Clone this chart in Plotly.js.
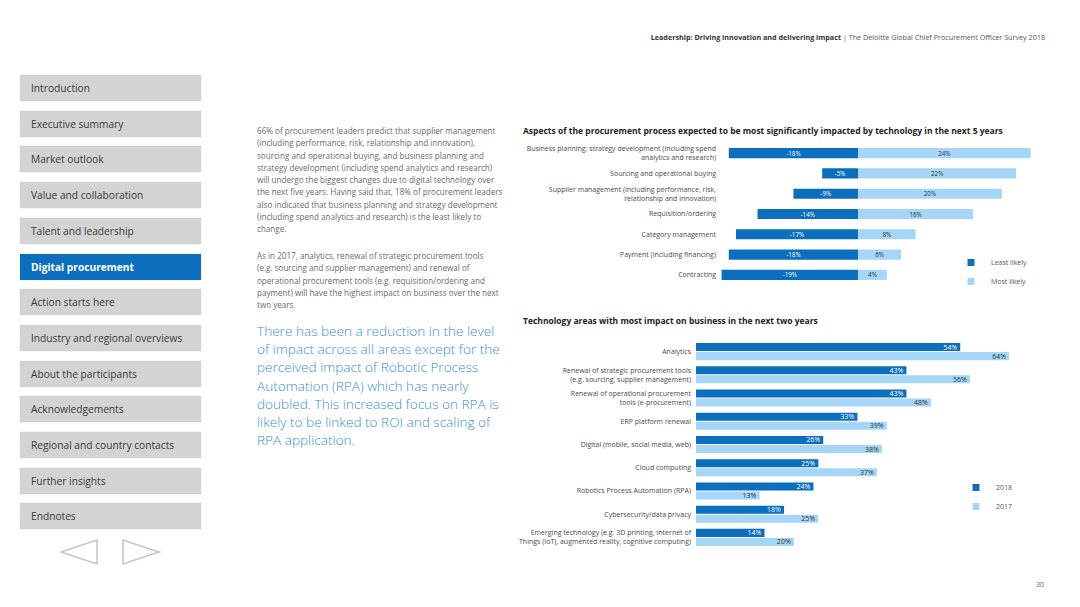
<!DOCTYPE html>
<html>
<head>
<meta charset="utf-8">
<script src="https://cdn.plot.ly/plotly-3.0.1.min.js"></script>
<style>
  html, body { margin:0; padding:0; background:#fff; }
  body { width:1080px; height:607px; position:relative; overflow:hidden; font-family:"Open Sans", "DejaVu Sans", sans-serif; }
  #chart { position:absolute; left:0; top:0; width:1080px; height:607px; }
  .nav { position:absolute; left:20px; width:181px; height:26px; background:#d3d3d3; box-shadow:0 0 1px #bbb; color:#3a3a3a; font-size:10.2px; line-height:26px; padding-left:11px; box-sizing:border-box; white-space:nowrap; }
  .nav.active { background:#0b6fbd; color:#fff; font-weight:bold; }
  .para { position:absolute; left:257px; font-size:8.1px; line-height:12.25px; color:#6a6a6a; white-space:nowrap; }
  .quote { position:absolute; left:257px; top:322px; font-size:13.6px; line-height:18.2px; color:#3b8ed4; white-space:nowrap; font-weight:300; }
  .header { position:absolute; right:35px; top:32px; font-size:7.2px; color:#555; white-space:nowrap; }
  .header b { color:#333; }
  .pnum { position:absolute; right:36px; top:580px; font-size:7px; color:#666; }
</style>
</head>
<body>
<div id="chart"></div>
<div id="navwrap"></div>
<div class="header"><b>Leadership: Driving innovation and delivering impact</b> | The Deloitte Global Chief Procurement Officer Survey 2018</div>
<div class="para" style="top:125px;">66% of procurement leaders predict that supplier management<br>(including performance, risk, relationship and innovation),<br>sourcing and operational buying, and business planning and<br>strategy development (including spend analytics and research)<br>will undergo the biggest changes due to digital technology over<br>the next five years. Having said that, 18% of procurement leaders<br>also indicated that business planning and strategy development<br>(including spend analytics and research) is the least likely to<br>change.</div>
<div class="para" style="top:250px;">As in 2017, analytics, renewal of strategic procurement tools<br>(e.g. sourcing and supplier management) and renewal of<br>operational procurement tools (e.g. requisition/ordering and<br>payment) will have the highest impact on business over the next<br>two years.</div>
<div class="quote">There has been a reduction in the level<br>of impact across all areas except for the<br>perceived impact of Robotic Process<br>Automation (RPA) which has nearly<br>doubled. This increased focus on RPA is<br>likely to be linked to ROI and scaling of<br>RPA application.</div>
<svg style="position:absolute;left:0;top:0;" width="220" height="607">
  <polygon points="97,540 97,564 61,552" fill="none" stroke="#c4c4c4" stroke-width="1.5"/>
  <polygon points="123,540 123,564 159,552" fill="none" stroke="#c4c4c4" stroke-width="1.5"/>
</svg>
<div class="pnum">30</div>
<script>
// ---------- Data ----------
const navItems = ["Introduction","Executive summary","Market outlook","Value and collaboration","Talent and leadership","Digital procurement","Action starts here","Industry and regional overviews","About the participants","Acknowledgements","Regional and country contacts","Further insights","Endnotes"];
const activeNav = "Digital procurement";

const aspectCategories = [
  "Business planning: strategy development (including spend<br>analytics and research)",
  "Sourcing and operational buying",
  "Supplier management (including performance, risk,<br>relationship and innovation)",
  "Requisition/ordering",
  "Category management",
  "Payment (including financing)",
  "Contracting"
];
const leastLikely = [-18, -5, -9, -14, -17, -18, -19];
const mostLikely = [24, 22, 20, 16, 8, 6, 4];

const techCategories = [
  "Analytics",
  "Renewal of strategic procurement tools<br>(e.g. sourcing, supplier management)",
  "Renewal of operational procurement<br>tools (e-procurement)",
  "ERP platform renewal",
  "Digital (mobile, social media, web)",
  "Cloud computing",
  "Robotics Process Automation (RPA)",
  "Cybersecurity/data privacy",
  "Emerging technology (e.g. 3D printing, Internet of<br>Things (IoT), augmented reality, cognitive computing)"
];
const values2018 = [54, 43, 43, 33, 26, 25, 24, 18, 14];
const values2017 = [64, 56, 48, 39, 38, 37, 13, 25, 20];

// ---------- Nav ----------
const navwrap = document.getElementById('navwrap');
navItems.forEach((t, i) => {
  const d = document.createElement('div');
  d.className = 'nav' + (t === activeNav ? ' active' : '');
  d.style.top = (75 + i * 35.7) + 'px';
  d.textContent = t;
  navwrap.appendChild(d);
});

// ---------- Chart ----------
const DARK = '#0b6fbd', LIGHT = '#a5d5f7';
const W = 1080, H = 607;
const px = v => v / W, py = v => 1 - v / H;
const FONT = '"Open Sans", "DejaVu Sans", sans-serif';

const traces = [
  { type:'bar', orientation:'h', name:'Least likely', y:aspectCategories, x:leastLikely,
    xaxis:'x', yaxis:'y', marker:{color:DARK}, showlegend:false, width:0.5,
    text:leastLikely.map(v => v + '%'), textposition:'inside', insidetextanchor:'middle', constraintext:'none',
    textfont:{size:6.3, color:'#ffffff', family:FONT}, textangle:0 },
  { type:'bar', orientation:'h', name:'Most likely', y:aspectCategories, x:mostLikely,
    xaxis:'x', yaxis:'y', marker:{color:LIGHT}, showlegend:false, width:0.5,
    text:mostLikely.map(v => v + '%'), textposition:'inside', insidetextanchor:'middle', constraintext:'none',
    textfont:{size:6.3, color:'#333333', family:FONT}, textangle:0 },
  { type:'bar', orientation:'h', name:'2018', y:techCategories, x:values2018,
    xaxis:'x2', yaxis:'y2', marker:{color:DARK}, showlegend:false, width:0.345, offset:-0.367,
    text:values2018.map(v => v + '%'), textposition:'inside', insidetextanchor:'end', constraintext:'none',
    textfont:{size:7, color:'#ffffff', family:FONT}, textangle:0 },
  { type:'bar', orientation:'h', name:'2017', y:techCategories, x:values2017,
    xaxis:'x2', yaxis:'y2', marker:{color:LIGHT}, showlegend:false, width:0.345, offset:0.022,
    text:values2017.map(v => v + '%'), textposition:'inside', insidetextanchor:'end', constraintext:'none',
    textfont:{size:7, color:'#333333', family:FONT}, textangle:0 },
  // legend entries
  { type:'scatter', mode:'markers', name:'Least likely', x:[null], y:[null], xaxis:'x', yaxis:'y',
    marker:{symbol:'square', size:7, color:DARK}, legend:'legend' },
  { type:'scatter', mode:'markers', name:'Most likely', x:[null], y:[null], xaxis:'x', yaxis:'y',
    marker:{symbol:'square', size:7, color:LIGHT}, legend:'legend' },
  { type:'scatter', mode:'markers', name:'2018', x:[null], y:[null], xaxis:'x2', yaxis:'y2',
    marker:{symbol:'square', size:7, color:DARK}, legend:'legend2' },
  { type:'scatter', mode:'markers', name:'2017', x:[null], y:[null], xaxis:'x2', yaxis:'y2',
    marker:{symbol:'square', size:7, color:LIGHT}, legend:'legend2' }
];

const axisFont = {size:7, color:'#4a4a4a', family:FONT};
const layout = {
  width:W, height:H, margin:{l:0, r:0, t:0, b:0},
  paper_bgcolor:'rgba(0,0,0,0)', plot_bgcolor:'rgba(0,0,0,0)',
  font:{family:FONT},
  barmode:'overlay',
  hovermode:false,
  xaxis:{domain:[px(718), px(1032)], range:[-19.5, 24.2], showticklabels:false, showgrid:false, zeroline:false, showline:false, fixedrange:true},
  yaxis:{domain:[py(285), py(143)], type:'category', autorange:'reversed', showgrid:false, zeroline:false, showline:false, ticks:'', tickfont:axisFont, ticklabelstandoff:1, anchor:'x', fixedrange:true},
  xaxis2:{domain:[px(696), px(1040)], range:[0, 70.3], showticklabels:false, showgrid:false, zeroline:false, showline:false, anchor:'y2', fixedrange:true},
  yaxis2:{domain:[py(549), py(340)], type:'category', autorange:'reversed', showgrid:false, zeroline:false, showline:false, ticks:'', tickfont:axisFont, ticklabelstandoff:4, anchor:'x2', fixedrange:true},
  legend:{x:px(951), y:py(248), xanchor:'left', yanchor:'top', font:{size:7, color:'#555', family:FONT}, bgcolor:'rgba(0,0,0,0)', itemwidth:30},
  legend2:{x:px(956), y:py(473), xanchor:'left', yanchor:'top', font:{size:7, color:'#555', family:FONT}, bgcolor:'rgba(0,0,0,0)', itemwidth:30},
  annotations:[
    {xref:'paper', yref:'paper', x:px(521), y:py(130), xanchor:'left', yanchor:'middle', showarrow:false,
     text:'<b>Aspects of the procurement process expected to be most significantly impacted by technology in the next 5 years</b>',
     font:{size:8.5, color:'#222', family:FONT}},
    {xref:'paper', yref:'paper', x:px(521), y:py(320), xanchor:'left', yanchor:'middle', showarrow:false,
     text:'<b>Technology areas with most impact on business in the next two years</b>',
     font:{size:8.5, color:'#222', family:FONT}}
  ]
};

Plotly.newPlot('chart', traces, layout, {staticPlot:true, displayModeBar:false});
</script>
</body>
</html>
